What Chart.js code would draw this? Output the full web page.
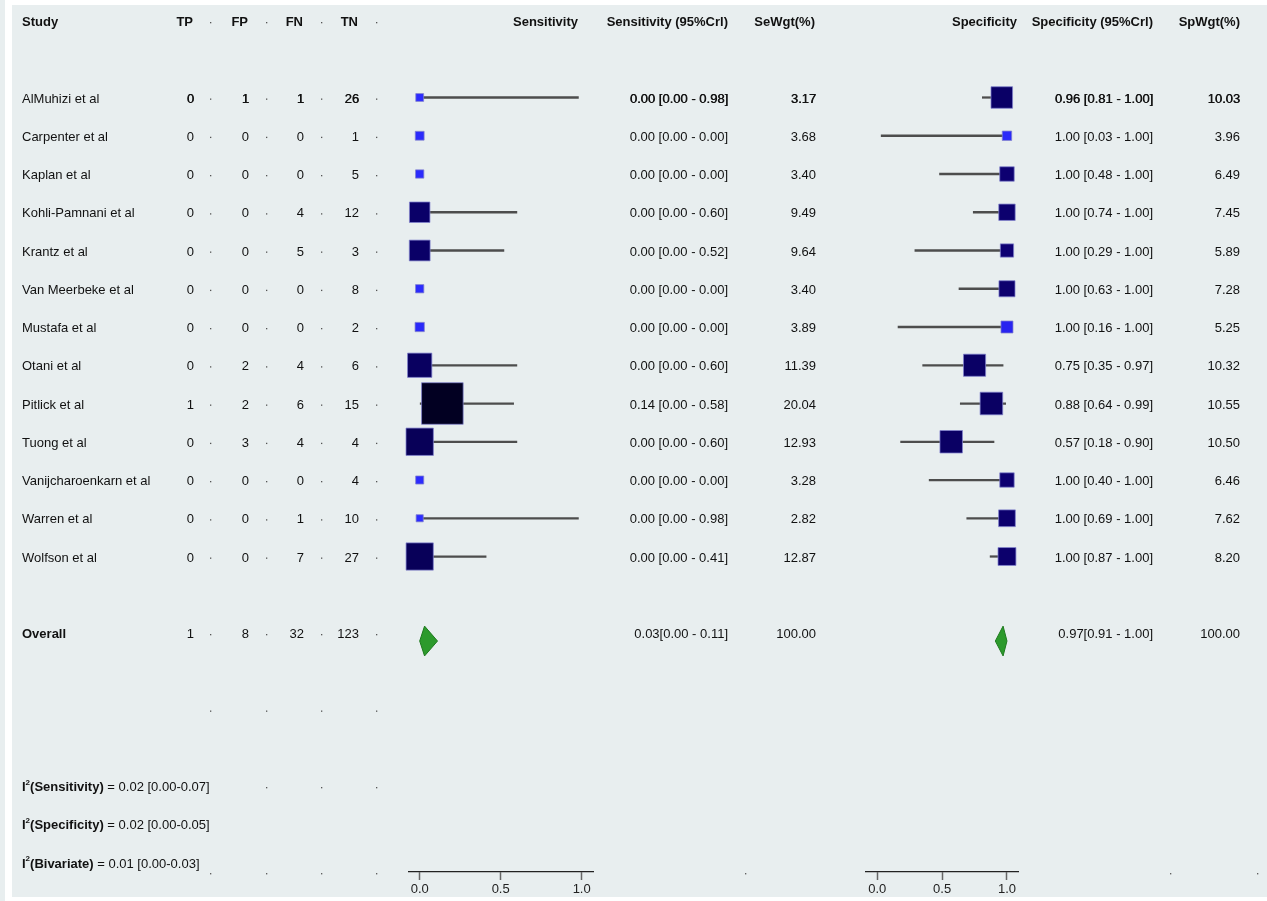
<!DOCTYPE html>
<html>
<head>
<meta charset="utf-8">
<script src="https://cdn.jsdelivr.net/npm/chart.js@4/dist/chart.umd.min.js"></script>
<style>
html,body{margin:0;padding:0;background:#fff;overflow:hidden}
#wrap{position:relative;width:1267px;height:901px}
#wrap canvas{position:absolute;left:0;top:0;width:1267px;height:901px}
</style>
</head>
<body>
<div id="wrap">
<canvas id="se" width="1267" height="901"></canvas>
<canvas id="sp" width="1267" height="901"></canvas>
</div>
<script>
// ---------------- DATA ----------------
const studies = ['AlMuhizi et al','Carpenter et al','Kaplan et al','Kohli-Pamnani et al','Krantz et al','Van Meerbeke et al','Mustafa et al','Otani et al','Pitlick et al','Tuong et al','Vanijcharoenkarn et al','Warren et al','Wolfson et al'];
const tp = [0,0,0,0,0,0,0,0,1,0,0,0,0];
const fp = [1,0,0,0,0,0,0,2,2,3,0,0,0];
const fn = [1,0,0,4,5,0,0,4,6,4,0,1,7];
const tn = [26,1,5,12,3,8,2,6,15,4,4,10,27];
const sens   = [0,0,0,0,0,0,0,0,0.14,0,0,0,0];
const sensLo = [0,0,0,0,0,0,0,0,0,0,0,0,0];
const sensHi = [0.98,0,0,0.60,0.52,0,0,0.60,0.58,0.60,0,0.98,0.41];
const seWgt  = [3.17,3.68,3.40,9.49,9.64,3.40,3.89,11.39,20.04,12.93,3.28,2.82,12.87];
const spec   = [0.96,1,1,1,1,1,1,0.75,0.88,0.57,1,1,1];
const specLo = [0.81,0.03,0.48,0.74,0.29,0.63,0.16,0.35,0.64,0.18,0.40,0.69,0.87];
const specHi = [1,1,1,1,1,1,1,0.97,0.99,0.90,1,1,1];
const spWgt  = [10.03,3.96,6.49,7.45,5.89,7.28,5.25,10.32,10.55,10.50,6.46,7.62,8.20];
const overallCounts = [1,8,32,123];
const overallSens = [0.03,0.00,0.11];   // estimate, lower, upper
const overallSpec = [0.97,0.91,1.00];
const overallWgt = [100,100];
const i2Labels = ['Sensitivity','Specificity','Bivariate'];
const i2Values = [[0.02,0.00,0.07],[0.02,0.00,0.05],[0.01,0.00,0.03]];
const xTicks = [0,0.5,1];

// ---------------- LAYOUT / STYLE ----------------
const FONT = '"Liberation Sans", Arial, Helvetica, sans-serif';
const studyRow = i => i + 2;
const OVERALL_ROW = 16;
const I2_ROWS = [20,21,22];
const DIAMOND_SHIFT = 0.21, DIAMOND_HALF = 0.39;
const Y_MIN = -0.549, Y_MAX = 22.248;
const TEXT_DY = 1.5;

const colorStops = [[3,[44,44,255]],[5.3,[40,36,240]],[5.8,[14,0,115]],[10,[10,0,102]],[13,[8,0,88]],[20,[2,0,34]]];
function wColor(w){
  if (w <= colorStops[0][0]) return 'rgb(' + colorStops[0][1].join(',') + ')';
  for (let k=1;k<colorStops.length;k++){
    if (w <= colorStops[k][0]){
      const [w0,c0]=colorStops[k-1],[w1,c1]=colorStops[k];
      const t=(w-w0)/(w1-w0);
      return 'rgb(' + c0.map((c,j)=>Math.round(c+(c1[j]-c)*t)).join(',') + ')';
    }
  }
  return 'rgb(' + colorStops[colorStops.length-1][1].join(',') + ')';
}
const boxRadius = w => (2*w + 1.5) / Math.SQRT2;

function diamond(est, lo, hi){
  const r = OVERALL_ROW + DIAMOND_SHIFT;
  return [{x:lo,y:r},{x:est,y:r-DIAMOND_HALF},{x:hi,y:r},{x:est,y:r+DIAMOND_HALF},{x:lo,y:r}];
}

function makeScales(xmin, xmax){
  return {
    x: {
      type:'linear', min:xmin, max:xmax, position:'bottom', offset:false,
      afterBuildTicks: s => { s.ticks = xTicks.map(v => ({value:v})); },
      afterFit: s => { s.height = 29; },
      grid: { drawOnChartArea:false, drawTicks:true, tickLength:8, tickColor:'#666', tickWidth:1.5, offset:false },
      border: { display:true, color:'#222', width:1.2 },
      ticks: { color:'#222', font:{family:FONT, size:13}, padding:2, maxRotation:0, autoSkip:false,
               callback: v => Number(v).toFixed(1) }
    },
    y: { type:'linear', display:false, reverse:true, min:Y_MIN, max:Y_MAX, offset:false, grid:{offset:false} }
  };
}

function forestDatasets(est, lo, hi, wgt, ov){
  return [
    { type:'scatter', data: est.map((v,i)=>({x:v, y:studyRow(i)})),
      pointStyle:'rect', pointRadius: wgt.map(boxRadius),
      backgroundColor: wgt.map(wColor), borderColor:'rgba(130,130,205,0.75)', borderWidth:1,
      clip:false, order:0 },
    { type:'bar', indexAxis:'y', data: est.map((v,i)=>({x:[lo[i],hi[i]], y:studyRow(i)})),
      backgroundColor:'#4d4d4d', borderWidth:0, barThickness:1.6, grouped:false, clip:false, order:2 },
    { type:'line', data: diamond(ov[0], ov[1], ov[2]), borderColor:'#1e7a1e', backgroundColor:'#2c9a2c',
      borderWidth:1, fill:'shape', pointRadius:0, tension:0, clip:false, order:0 }
  ];
}

// ---------------- TEXT / BACKGROUND PLUGIN ----------------
function put(ctx, s, x, y, align, bold, heavy){
  ctx.font = (bold ? 'bold ' : '') + '13px ' + FONT;
  ctx.textAlign = align;
  ctx.fillText(s, x, y);
  if (heavy) ctx.fillText(s, x + 0.5, y);
}
const ci = (e,l,h,sp) => e.toFixed(2) + (sp ? ' [' : '[') + l.toFixed(2) + ' - ' + h.toFixed(2) + ']';

const tablePlugin = {
  id:'tablePlugin',
  beforeDraw(chart){
    const ctx = chart.ctx;
    ctx.save();
    ctx.fillStyle = '#e8eeef';
    ctx.fillRect(0,0,1267,901);
    ctx.fillStyle = '#ffffff';
    ctx.fillRect(5,0,7,901);
    ctx.fillRect(5,0,1262,5);
    ctx.fillRect(5,897,1262,4);
    ctx.restore();
  },
  afterDraw(chart){
    const ctx = chart.ctx;
    const Y = r => chart.scales.y.getPixelForValue(r) + TEXT_DY;
    ctx.save();
    ctx.fillStyle = '#111';
    ctx.textBaseline = 'middle';
    const cnt = [194,249,304,359];
    // header
    const hy = Y(0);
    put(ctx,'Study',22,hy,'left',true);
    ['TP','FP','FN','TN'].forEach((h,k)=>put(ctx,h,cnt[k]-1,hy,'right',true));
    put(ctx,'Sensitivity',578,hy,'right',true);
    put(ctx,'Sensitivity (95%Crl)',728,hy,'right',true);
    put(ctx,'SeWgt(%)',815,hy,'right',true);
    put(ctx,'Specificity',1017,hy,'right',true);
    put(ctx,'Specificity (95%Crl)',1153,hy,'right',true);
    put(ctx,'SpWgt(%)',1240,hy,'right',true);
    // studies
    studies.forEach((s,i)=>{
      const y = Y(studyRow(i));
      const heavy = i === 0;
      put(ctx,s,22,y,'left',false);
      [tp[i],fp[i],fn[i],tn[i]].forEach((v,k)=>put(ctx,String(v),cnt[k],y,'right',false,heavy));
      put(ctx,ci(sens[i],sensLo[i],sensHi[i],true),728,y,'right',false,heavy);
      put(ctx,seWgt[i].toFixed(2),816,y,'right',false,heavy);
      put(ctx,ci(spec[i],specLo[i],specHi[i],true),1153,y,'right',false,heavy);
      put(ctx,spWgt[i].toFixed(2),1240,y,'right',false,heavy);
    });
    // overall
    const oy = Y(OVERALL_ROW);
    put(ctx,'Overall',22,oy,'left',true);
    overallCounts.forEach((v,k)=>put(ctx,String(v),cnt[k],oy,'right',false));
    put(ctx,ci(overallSens[0],overallSens[1],overallSens[2],false),728,oy,'right',false);
    put(ctx,overallWgt[0].toFixed(2),816,oy,'right',false);
    put(ctx,ci(overallSpec[0],overallSpec[1],overallSpec[2],false),1153,oy,'right',false);
    put(ctx,overallWgt[1].toFixed(2),1240,oy,'right',false);
    // I^2 lines
    i2Labels.forEach((lab,k)=>{
      const y = Y(I2_ROWS[k]);
      let x = 22;
      ctx.textAlign='left';
      ctx.font = 'bold 13px ' + FONT;
      ctx.fillText('I', x, y); x += ctx.measureText('I').width;
      ctx.font = 'bold 8px ' + FONT;
      ctx.fillText('2', x, y - 5); x += ctx.measureText('2').width;
      ctx.font = 'bold 13px ' + FONT;
      const b = '(' + lab + ')';
      ctx.fillText(b, x, y); x += ctx.measureText(b).width;
      ctx.font = '13px ' + FONT;
      const v = i2Values[k];
      ctx.fillText(' = ' + v[0].toFixed(2) + ' [' + v[1].toFixed(2) + '-' + v[2].toFixed(2) + ']', x, y);
    });
    // separator dots
    ctx.fillStyle = '#555';
    const dotX = [210,266,321,376];
    const dotRows = [0].concat(studies.map((_,i)=>studyRow(i)), [OVERALL_ROW, 18]);
    dotRows.forEach(r=>{ const y=Y(r); dotX.forEach(x=>ctx.fillRect(x,y-0.5,1.3,1.3)); });
    const y20 = Y(I2_ROWS[0]);
    dotX.slice(1).forEach(x=>ctx.fillRect(x,y20-0.5,1.3,1.3));
    const yb = Y(22.25);
    dotX.concat([745,1170,1257]).forEach(x=>ctx.fillRect(x,yb-0.5,1.3,1.3));
    ctx.restore();
  }
};

const common = (padL, padR, xmin, xmax) => ({
  responsive:false, animation:false, events:[],
  layout:{ autoPadding:false, padding:{ left:padL, right:padR, top:0, bottom:0 } },
  plugins:{ legend:{display:false}, tooltip:{enabled:false}, title:{display:false} },
  scales: makeScales(xmin, xmax)
});

new Chart(document.getElementById('se'), {
  type:'scatter',
  data:{ datasets: forestDatasets(sens, sensLo, sensHi, seWgt, overallSens) },
  options: common(409, 1267-593, -0.066, 1.070),
  plugins:[tablePlugin]
});

new Chart(document.getElementById('sp'), {
  type:'scatter',
  data:{ datasets: forestDatasets(spec, specLo, specHi, spWgt, overallSpec) },
  options: common(866, 1267-1018, -0.087, 1.085)
});
</script>
</body>
</html>
